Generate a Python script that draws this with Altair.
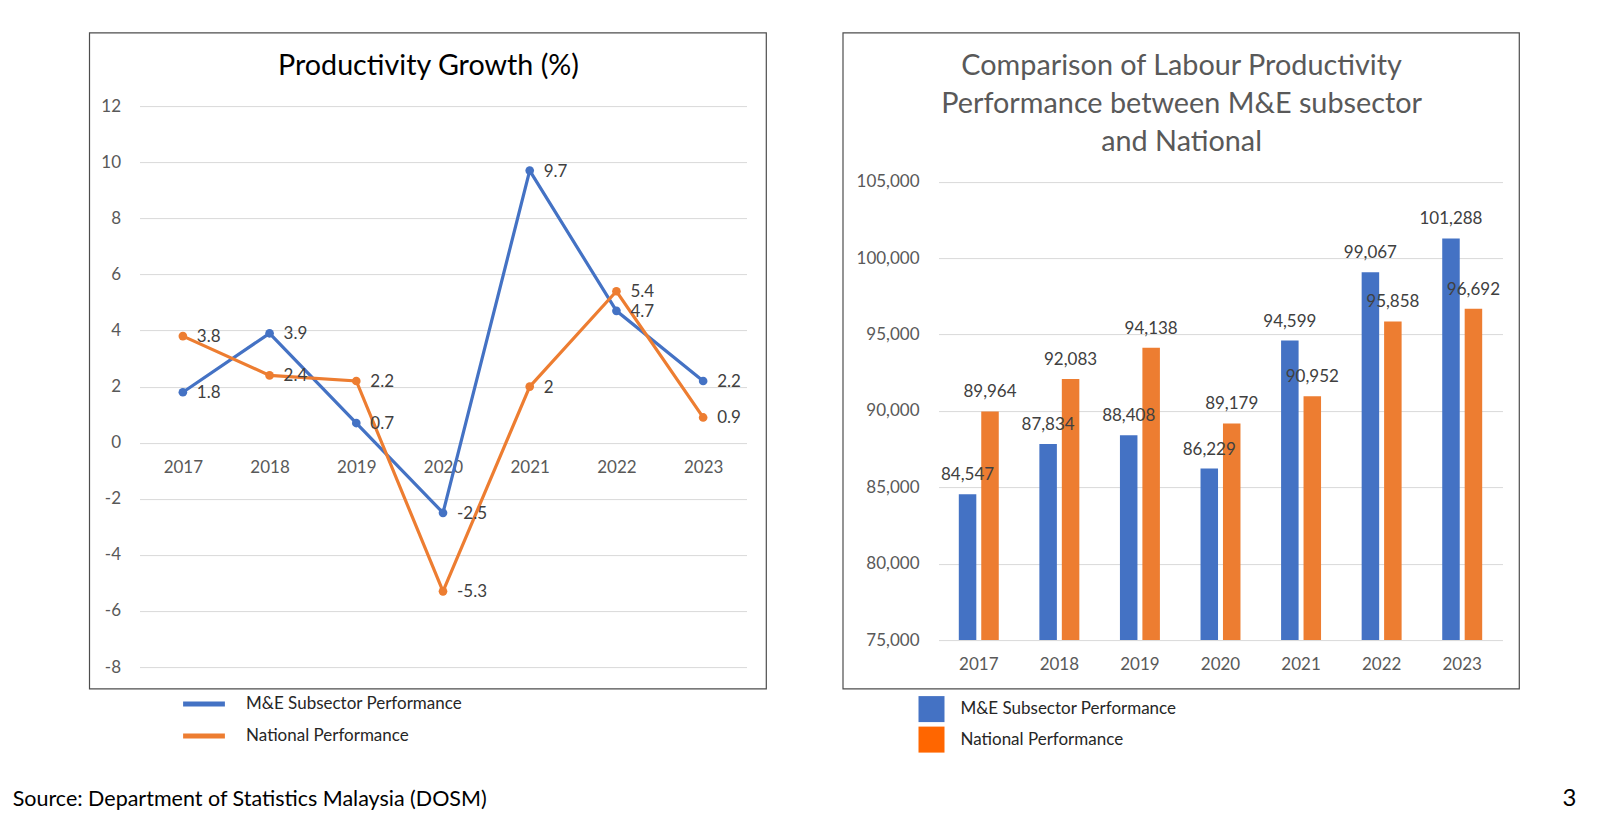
import altair as alt
import pandas as pd

# ---------------- data ----------------
years = ["2017", "2018", "2019", "2020", "2021", "2022", "2023"]
series_names = ["M&E Subsector Performance", "National Performance"]
growth_me = [1.8, 3.9, 0.7, -2.5, 9.7, 4.7, 2.2]
growth_nat = [3.8, 2.4, 2.2, -5.3, 2.0, 5.4, 0.9]
prod_me = [84547, 87834, 88408, 86229, 94599, 99067, 101288]
prod_nat = [89964, 92083, 94138, 89179, 90952, 95858, 96692]
growth_ticks = [-8, -6, -4, -2, 0, 2, 4, 6, 8, 10, 12]
prod_ticks = [75000, 80000, 85000, 90000, 95000, 100000, 105000]

left_title = "Productivity Growth (%)"
right_title = ["Comparison of Labour Productivity",
               "Performance between M&E subsector",
               "and National"]
source_text = "Source: Department of Statistics Malaysia (DOSM)"
page_no = "3"

# ---------------- styles ----------------
BLUE = "#4472C4"
ORANGE = "#ED7D31"
LEGEND_ORANGE = "#FF6600"
FONT = "Lato"
GRID = "#D9D9D9"
AXIS_TXT = "#595959"
LBL_TXT = "#404040"

growth_df = pd.DataFrame({
    "year": years * 2,
    "series": [series_names[0]] * len(years) + [series_names[1]] * len(years),
    "value": growth_me + growth_nat,
})
growth_df["label"] = growth_df["value"].map(lambda v: f"{v:g}")

prod_df = pd.DataFrame({
    "year": years * 2,
    "series": [series_names[0]] * len(years) + [series_names[1]] * len(years),
    "value": prod_me + prod_nat,
})
prod_df["label"] = prod_df["value"].map(lambda v: f"{v:,}")

one = alt.Data(values=[{"k": 1}])

W1, H1 = 607, 561
W2, H2 = 564, 534
R_TOP = 75.6   # top of the right panel's value range inside its view


def frame(x, x2, y, y2):
    return alt.Chart(one).mark_rect(fillOpacity=0, stroke="#4d4d4d", strokeWidth=1.2).encode(
        x=alt.value(x), x2=alt.value(x2), y=alt.value(y), y2=alt.value(y2))


# ---------------- left panel ----------------
x_left = alt.X("year:O", sort=years, scale=alt.Scale(type="point", padding=0.5),
               axis=alt.Axis(title=None, labelAngle=0, domain=False, ticks=False, grid=False,
                             offset=-H1 * 8 / 20, labelPadding=17))
y_left = alt.Y("value:Q", scale=alt.Scale(domain=[-8, 12], nice=False, zero=False),
               axis=alt.Axis(title=None, values=growth_ticks, domain=False, ticks=False,
                             gridColor=GRID, labelPadding=19, labelExpr="'' + datum.value"))

lines = alt.Chart(growth_df).mark_line(
    strokeWidth=3.2, point=alt.OverlayMarkDef(filled=True, size=75)
).encode(
    x=x_left, y=y_left,
    color=alt.Color("series:N", sort=series_names,
                    scale=alt.Scale(domain=series_names, range=[BLUE, ORANGE]),
                    legend=alt.Legend(title=None, orient="none", legendX=41, legendY=585,
                                      symbolType="stroke", symbolSize=1747, symbolStrokeWidth=5,
                                      clipHeight=26, rowPadding=6, labelOffset=18.6, padding=0,
                                      labelFont=FONT, labelFontSize=17, labelColor="#262626",
                                      labelLimit=400)),
)
line_labels = alt.Chart(growth_df).mark_text(
    align="left", baseline="middle", dx=14, dy=1, font=FONT, fontSize=17, color=LBL_TXT
).encode(x=x_left, y=y_left, text="label:N")

t_left = alt.Chart(one).mark_text(font=FONT, fontSize=28.7, color="#000000", align="center",
                                  baseline="middle").encode(
    x=alt.value(289), y=alt.value(-40), text=alt.value(left_title))
src = alt.Chart(one).mark_text(font=FONT, fontSize=21.5, color="#000000", align="left",
                               baseline="middle").encode(
    x=alt.value(-126.8), y=alt.value(694), text=alt.value(source_text))

left = alt.layer(frame(-50, 626.8, -73.3, 582.8), lines, line_labels, t_left, src).properties(
    width=W1, height=H1)

# ---------------- right panel ----------------
x_right = alt.X("year:O", sort=years, scale=alt.Scale(type="band", paddingInner=0.504, paddingOuter=0.252),
                axis=alt.Axis(title=None, labelAngle=0, domain=False, ticks=False, grid=False,
                              labelPadding=16.5))
x_off = alt.XOffset("series:N", sort=series_names,
                    scale=alt.Scale(domain=series_names, paddingInner=0.22, paddingOuter=0))
y_right = alt.Y("value:Q", scale=alt.Scale(domain=[75000, 105000], nice=False, zero=False,
                                           range=[H2, R_TOP]),
                axis=alt.Axis(title=None, values=prod_ticks, domain=False, ticks=False,
                              gridColor=GRID, labelPadding=19.5,
                              labelExpr="format(datum.value, ',')"))

legend_proxy = alt.Chart(prod_df).mark_square(opacity=0, size=1).encode(
    x=x_right, xOffset=x_off, y=y_right,
    fill=alt.Fill("series:N", sort=series_names,
                  scale=alt.Scale(domain=series_names, range=[BLUE, LEGEND_ORANGE]),
                  legend=alt.Legend(title=None, orient="none", legendX=-20, legendY=590,
                                    symbolType="square", symbolSize=676, symbolOpacity=1,
                                    symbolStrokeWidth=0, rowPadding=4.5, labelOffset=16, padding=0,
                                    labelFont=FONT, labelFontSize=17, labelColor="#262626",
                                    labelLimit=400)),
)
bars = alt.Chart(prod_df).mark_bar().encode(
    x=x_right, xOffset=x_off, y=y_right, y2=alt.datum(75000),
    color=alt.Color("series:N", sort=series_names,
                    scale=alt.Scale(domain=series_names, range=[BLUE, ORANGE]), legend=None),
)
bar_labels = alt.Chart(prod_df).mark_text(
    align="center", baseline="middle", dy=-19, font=FONT, fontSize=17, color=LBL_TXT
).encode(x=x_right, xOffset=x_off, y=y_right, text="label:N")

t_right = alt.Chart(one).mark_text(font=FONT, fontSize=28.8, color="#595959", align="center",
                                   baseline="middle", lineHeight=37.7).encode(
    x=alt.value(243.1), y=alt.value(-39.7), text=alt.value(right_title))
pg = alt.Chart(one).mark_text(font=FONT, fontSize=24, color="#000000", align="center",
                              baseline="middle").encode(
    x=alt.value(631), y=alt.value(693), text=alt.value(page_no))

right = alt.layer(frame(-95.5, 580.8, -73.3, 582.8), legend_proxy, bars, bar_labels, t_right, pg).properties(
    width=W2, height=H2)

chart = alt.hconcat(left, right, spacing=74).resolve_scale(
    color="independent", fill="independent"
).resolve_legend(
    color="independent", fill="independent"
).properties(
    padding={"left": 4.5, "top": 24.1, "right": 0, "bottom": 0}
).configure_view(stroke=None).configure_axis(
    labelFont=FONT, labelFontSize=17, labelColor=AXIS_TXT
)

chart.save("out.html", embed_options={"renderer": "svg", "actions": False})
